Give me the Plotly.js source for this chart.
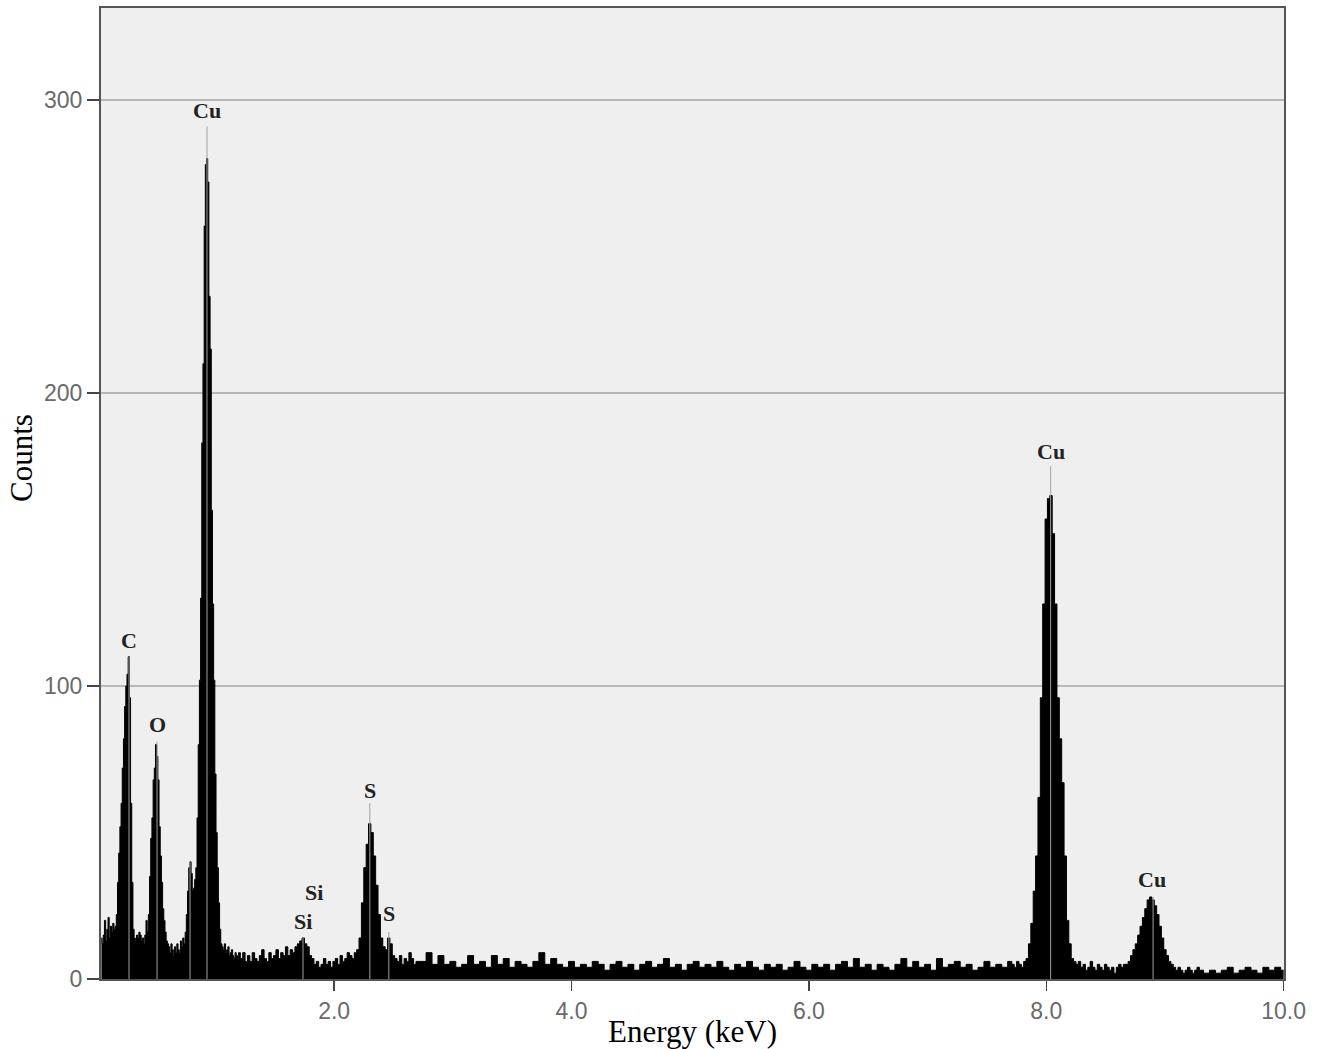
<!DOCTYPE html>
<html>
<head>
<meta charset="utf-8">
<script src="https://cdn.plot.ly/plotly-3.0.1.min.js"></script>
<style>
html,body{margin:0;padding:0;background:#ffffff;}
#chart{width:1321px;height:1049px;}
</style>
</head>
<body>
<div id="chart"></div>
<script>
// ---- Spectrum data (counts), per channel segment ----
const lowStart = 0.04, lowStep = 0.01;   // 0.04 .. 1.20 keV
const countsLow = [
  14,12,15,20,13,17,21,14,18,16,
  19,17,18,22,33,43,52,60,72,82,
  93,100,104,110,96,60,33,17,14,13,
  15,14,16,15,13,14,12,15,20,16,
  22,35,48,55,68,72,80,76,68,52,
  42,33,24,20,16,13,12,11,9,12,
  10,8,11,9,12,10,9,13,11,14,
  12,16,22,30,38,40,36,30,31,34,
  38,55,80,102,130,183,210,257,278,280,
  272,233,215,160,128,102,70,50,38,26,
  17,12,11,10,12,9,10,11,8,9,
  10,8,7,9,8,7,9
];
const midStart = 1.22, midStep = 0.02;   // 1.22 .. 2.70 keV
const countsMid = [
  7,9,6,8,6,9,7,6,8,10,
  7,6,9,7,8,10,7,9,8,11,
  8,10,9,11,12,13,14,12,11,8,
  7,5,6,4,5,7,5,6,4,6,
  7,5,8,6,7,9,8,7,9,10,
  14,26,38,46,53,50,42,32,22,14,
  11,10,14,12,8,7,6,8,5,7,
  6,9,7,5,6
];
const bgStart = 2.75, bgStep = 0.05;     // 2.75 .. 7.70 keV
const countsBg = [
  6,9,5,8,5,6,4,5,8,5,
  6,4,8,5,7,4,6,5,4,6,
  9,5,7,5,4,6,4,5,4,6,
  5,3,5,6,4,5,3,5,6,4,
  5,7,4,5,3,5,6,4,5,4,
  6,4,3,5,4,6,4,3,5,4,
  5,3,4,6,4,3,5,4,5,3,
  5,6,4,7,4,5,3,5,4,3,
  5,7,4,6,4,5,3,7,4,5,
  6,4,5,3,4,6,4,5,4,6
];
const cuKStart = 7.72, cuKStep = 0.02;   // 7.72 .. 9.30 keV
const countsCuK = [
  5,4,6,5,4,6,7,12,19,30,
  42,62,96,128,157,164,165,152,128,96,
  82,67,42,20,12,7,6,5,6,4,
  5,3,4,6,4,3,5,4,3,5,
  4,3,4,2,4,5,4,5,5,6,
  8,10,12,15,18,21,24,27,28,27,
  25,22,18,14,10,8,6,5,4,3,
  4,3,2,3,4,3,2,3,4,3
];
const highStart = 9.35, highStep = 0.05; // 9.35 .. 10.00 keV
const countsHigh = [2,3,2,3,4,2,3,4,3,2,4,3,4,3];

// ---- Element labels and marker lines ----
const labelText   = ['Cu', 'C', 'O', 'Si', 'Si', 'S', 'S', 'Cu', 'Cu'];
const labelEnergy = [0.93, 0.272, 0.508, 1.83, 1.738, 2.301, 2.46, 8.037, 8.894];
const labelCounts = [296.5, 115.5, 87, 29.5, 19.5, 64.5, 22.5, 180, 34];

const markerEnergy = [0.272, 0.508, 0.786, 0.929, 1.738, 2.301, 2.461, 8.037, 8.90];
const markerTop    = [110, 81, 40, 291, 14, 60, 16, 175, 28];

// ---- Axis ticks ----
const xTicks = [2, 4, 6, 8, 10];
const xTickText = ['2.0', '4.0', '6.0', '8.0', '10.0'];
const yTicks = [0, 100, 200, 300];

function channelGrid(start, step, counts) {
  return counts.map((c, i) => +(start + i * step).toFixed(3));
}

const energy = [].concat(
  channelGrid(lowStart, lowStep, countsLow),
  channelGrid(midStart, midStep, countsMid),
  channelGrid(bgStart, bgStep, countsBg),
  channelGrid(cuKStart, cuKStep, countsCuK),
  channelGrid(highStart, highStep, countsHigh)
);
const counts = [].concat(countsLow, countsMid, countsBg, countsCuK, countsHigh);

const spectrum = {
  type: 'scatter',
  mode: 'lines',
  x: energy,
  y: counts,
  fill: 'tozeroy',
  fillcolor: '#000000',
  line: {color: '#000000', width: 1, shape: 'hvh'},
  hoverinfo: 'x+y',
  showlegend: false
};

const shapes = markerEnergy.map((e, i) => ({
  type: 'line', xref: 'x', yref: 'y',
  x0: e, x1: e, y0: 0, y1: markerTop[i],
  line: {color: '#a2a2a2', width: 1},
  layer: 'above'
}));

const annotations = labelText.map((t, i) => ({
  x: labelEnergy[i], y: labelCounts[i], xref: 'x', yref: 'y',
  text: '<b>' + t + '</b>', showarrow: false,
  xanchor: 'center', yanchor: 'middle',
  font: {family: 'Liberation Serif, Times New Roman, serif', size: 22, color: '#222222'}
}));

const tickFont = {family: 'Liberation Sans, Arial, sans-serif', size: 23, color: '#6a6a6a'};
const titleFont = {family: 'Liberation Serif, Times New Roman, serif', size: 31, color: '#000000'};

// y-axis title placed where the reference shows it (above the plot's vertical centre)
annotations.push({
  xref: 'paper', yref: 'paper',
  x: (22 - 101) / 1183, y: (979 - 458) / 971,
  xanchor: 'center', yanchor: 'middle',
  text: 'Counts', textangle: -90, showarrow: false,
  font: titleFont
});

const layout = {
  width: 1321,
  height: 1049,
  margin: {l: 101, r: 37, t: 8, b: 70, pad: 0},
  paper_bgcolor: '#ffffff',
  plot_bgcolor: '#efefef',
  showlegend: false,
  xaxis: {
    range: [0.036, 10.003],
    tickvals: xTicks,
    ticktext: xTickText,
    ticks: 'outside',
    ticklen: 10,
    tickwidth: 1.5,
    tickcolor: '#444444',
    tickfont: tickFont,
    showgrid: false,
    zeroline: false,
    showline: true,
    linecolor: '#555555',
    linewidth: 2,
    mirror: true,
    title: {text: 'Energy (keV)', font: titleFont, standoff: 1}
  },
  yaxis: {
    range: [0, 331.4],
    tickvals: yTicks,
    ticks: 'outside',
    ticklen: 12,
    tickwidth: 1.5,
    tickcolor: '#444444',
    tickfont: tickFont,
    showgrid: true,
    gridcolor: '#b8b8b8',
    gridwidth: 1.5,
    zeroline: false,
    showline: true,
    linecolor: '#555555',
    linewidth: 2,
    mirror: true
  },
  shapes: shapes,
  annotations: annotations
};

Plotly.newPlot('chart', [spectrum], layout, {displayModeBar: false, staticPlot: true});
</script>
</body>
</html>
